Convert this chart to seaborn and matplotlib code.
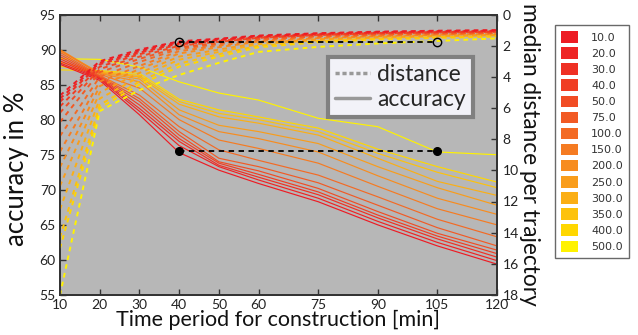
import numpy as np
import pandas as pd
import matplotlib
matplotlib.use("Agg")
import matplotlib.pyplot as plt
from matplotlib.patches import Patch
from matplotlib.lines import Line2D
import seaborn as sns

# Time periods for construction [min]
periods = [10, 20, 30, 40, 50, 60, 75, 90, 105, 120]

# Parameter values (legend) and their colours, red -> yellow
params = [10.0, 20.0, 30.0, 40.0, 50.0, 75.0, 100.0, 150.0, 200.0, 250.0, 300.0, 350.0, 400.0, 500.0]
param_colors = ["#ED1C24", "#EE2424", "#EF3024", "#F03E24", "#F14C24", "#F25A24", "#F36A24",
                "#F57B22", "#F78C1F", "#F99D1B", "#FBAF15", "#FDC20C", "#FFD700", "#FFF200"]

# Accuracy in % per parameter value, one entry per period
acc_10 = [87.9, 85.6, 80.7, 75.3, 72.8, 70.9, 68.3, 65.0, 62.0, 59.4]
acc_20 = [88.1, 85.8, 81.2, 76.3, 73.3, 71.4, 68.8, 65.5, 62.5, 59.9]
acc_30 = [88.4, 85.9, 81.6, 76.9, 73.5, 71.8, 69.3, 66.0, 63.0, 60.4]
acc_40 = [88.7, 86.0, 82.1, 77.3, 73.8, 72.2, 69.7, 66.4, 63.4, 60.9]
acc_50 = [89.0, 86.1, 82.6, 77.8, 74.0, 72.7, 70.2, 66.9, 63.8, 61.4]
acc_75 = [89.3, 86.2, 83.0, 78.3, 74.5, 73.3, 71.0, 67.8, 64.6, 62.0]
acc_100 = [89.6, 86.3, 83.5, 79.0, 75.7, 74.2, 72.1, 69.0, 65.8, 63.3]
acc_150 = [89.9, 86.5, 84.5, 80.0, 77.1, 75.9, 73.8, 70.5, 67.3, 65.0]
acc_200 = [90.0, 86.6, 85.4, 80.7, 78.3, 77.3, 75.4, 72.0, 68.8, 66.5]
acc_250 = [89.8, 86.7, 85.8, 81.4, 79.2, 78.3, 76.6, 73.3, 70.3, 67.8]
acc_300 = [88.2, 86.8, 86.1, 82.2, 80.4, 79.5, 77.8, 74.5, 71.2, 69.2]
acc_350 = [87.6, 86.9, 86.3, 82.6, 80.9, 80.0, 78.3, 75.2, 72.5, 70.3]
acc_400 = [87.1, 87.0, 86.6, 82.9, 81.4, 80.4, 78.8, 75.8, 73.3, 71.1]
acc_500 = [88.7, 88.6, 87.5, 85.4, 83.8, 82.8, 80.2, 79.0, 75.4, 75.0]

# Median distance per trajectory per parameter value, one entry per period
dist_10 = [5.2, 3.0, 2.25, 1.72, 1.55, 1.35, 1.20, 1.10, 1.04, 1.00]
dist_20 = [5.4, 3.1, 2.35, 1.78, 1.60, 1.39, 1.23, 1.13, 1.07, 1.03]
dist_30 = [5.6, 3.2, 2.45, 1.85, 1.65, 1.43, 1.26, 1.16, 1.10, 1.06]
dist_40 = [5.9, 3.35, 2.55, 1.92, 1.70, 1.47, 1.29, 1.19, 1.13, 1.09]
dist_50 = [6.3, 3.5, 2.70, 2.00, 1.75, 1.50, 1.32, 1.22, 1.16, 1.12]
dist_75 = [6.9, 3.7, 2.85, 2.10, 1.82, 1.55, 1.36, 1.25, 1.19, 1.15]
dist_100 = [7.8, 4.0, 3.05, 2.20, 1.90, 1.60, 1.40, 1.29, 1.22, 1.18]
dist_150 = [8.8, 4.3, 3.30, 2.35, 2.00, 1.67, 1.46, 1.34, 1.26, 1.22]
dist_200 = [9.8, 4.6, 3.50, 2.50, 2.10, 1.74, 1.52, 1.39, 1.30, 1.26]
dist_250 = [11.0, 5.0, 3.75, 2.70, 2.25, 1.82, 1.58, 1.44, 1.35, 1.30]
dist_300 = [12.5, 5.4, 4.00, 2.90, 2.40, 1.90, 1.64, 1.49, 1.40, 1.34]
dist_350 = [14.3, 5.8, 4.30, 3.15, 2.55, 2.00, 1.70, 1.54, 1.45, 1.38]
dist_400 = [15.0, 6.0, 4.50, 3.35, 2.70, 2.10, 1.78, 1.60, 1.50, 1.42]
dist_500 = [18.0, 6.2, 4.85, 3.88, 3.10, 2.40, 2.08, 1.86, 1.70, 1.53]

# Comparison markers between two periods
cmp_periods = [40, 105]
cmp_acc = [75.5, 75.5]
cmp_dist = [1.75, 1.75]

x_ticks = [10, 20, 30, 40, 50, 60, 75, 90, 105, 120]
acc_ticks = [55, 60, 65, 70, 75, 80, 85, 90, 95]
dist_ticks = [0, 2, 4, 6, 8, 10, 12, 14, 16, 18]

acc_series = [acc_10, acc_20, acc_30, acc_40, acc_50, acc_75, acc_100, acc_150,
              acc_200, acc_250, acc_300, acc_350, acc_400, acc_500]
dist_series = [dist_10, dist_20, dist_30, dist_40, dist_50, dist_75, dist_100, dist_150,
               dist_200, dist_250, dist_300, dist_350, dist_400, dist_500]

labels = [f"{p:.1f}" for p in params]
rows = []
for lab, a, d in zip(labels, acc_series, dist_series):
    for t, av, dv in zip(periods, a, d):
        rows.append({"period": t, "param": lab, "accuracy": av, "distance": dv})
df = pd.DataFrame(rows)
palette = dict(zip(labels, param_colors))
draw_order = labels[::-1]

sns.set_style("ticks")
plt.rcParams["font.family"] = ["Lato", "DejaVu Sans"]

fig = plt.figure(figsize=(6.38, 3.35), dpi=100)
ax = fig.add_axes([60 / 638, 1 - 295 / 335, 437 / 638, 280.5 / 335])
ax.set_facecolor("#B7B7B7")

sns.lineplot(data=df, x="period", y="accuracy", hue="param", hue_order=draw_order,
             palette=palette, legend=False, ax=ax, linewidth=0.85, estimator=None)

ax2 = ax.twinx()
sns.lineplot(data=df, x="period", y="distance", hue="param", hue_order=draw_order,
             palette=palette, legend=False, ax=ax2, linewidth=1.4, estimator=None)
for ln in ax2.get_lines():
    ln.set_dashes((2.4, 2.2))

ax.plot(cmp_periods, cmp_acc, color="black", linestyle=(0, (3, 2.5)), linewidth=1.3,
        marker="o", markersize=5.5, markerfacecolor="black")
ax2.plot(cmp_periods, cmp_dist, color="black", linestyle=(0, (3, 2.5)), linewidth=1.3,
         marker="o", markersize=6, markerfacecolor="none", markeredgewidth=1.0)

ax.set_xlim(10, 120)
ax.set_ylim(55, 95)
ax2.set_ylim(18, 0)
ax.set_xticks(x_ticks)
ax.set_yticks(acc_ticks)
ax2.set_yticks(dist_ticks)

for a in (ax, ax2):
    for s in a.spines.values():
        s.set_color("#333333")
        s.set_linewidth(1.3)
ax.tick_params(direction="in", top=True, length=4, width=1, color="#333333",
               labelsize=10, pad=3, labelcolor="#222222")
ax.tick_params(axis="y", pad=3)
ax2.tick_params(direction="in", length=4, width=1, color="#333333",
                labelsize=10, pad=4, labelcolor="#222222")

ax.set_xlabel("Time period for construction [min]", fontsize=15.5, labelpad=-1, color="#111111")
ax.set_ylabel("accuracy in %", fontsize=18.5, labelpad=0, color="#111111")
ax.yaxis.set_label_coords(-0.072, 0.45)
ax2.set_ylabel("median distance per trajectory", fontsize=16.3, rotation=270,
               labelpad=15, color="#111111")

# Line-style legend inside the plot
style_handles = [Line2D([0], [0], color="#999999", linewidth=2.5, linestyle=(0, (1.2, 0.8))),
                 Line2D([0], [0], color="#999999", linewidth=2.5)]
leg = ax2.legend(style_handles, ["distance", "accuracy"], loc="upper left",
                 bbox_to_anchor=(268 / 437, 1 - 42.5 / 280.5), fontsize=16.5, frameon=True,
                 fancybox=False, handlelength=1.55, handletextpad=0.3, borderpad=0.3,
                 labelspacing=0.2, borderaxespad=0)
leg.get_frame().set_facecolor("#F2F2F8")
leg.get_frame().set_edgecolor("#808080")
leg.get_frame().set_linewidth(3)
leg.get_frame().set_alpha(1)

# Colour legend for the parameter values
color_handles = [Patch(facecolor=c, edgecolor="none") for c in param_colors]
cleg = fig.legend(color_handles, labels, loc="upper left",
                  bbox_to_anchor=(555 / 638, 1 - 25 / 335), frameon=True, fancybox=False,
                  prop={"family": "DejaVu Sans", "size": 8}, handlelength=1.5, handleheight=1.2,
                  labelspacing=0.42, borderpad=0.55, handletextpad=1.2, borderaxespad=0)
cleg.get_frame().set_edgecolor("#444444")
cleg.get_frame().set_linewidth(1.0)
for txt in cleg.get_texts():
    txt.set_color("#333333")

fig.savefig("out.png", dpi=100)
